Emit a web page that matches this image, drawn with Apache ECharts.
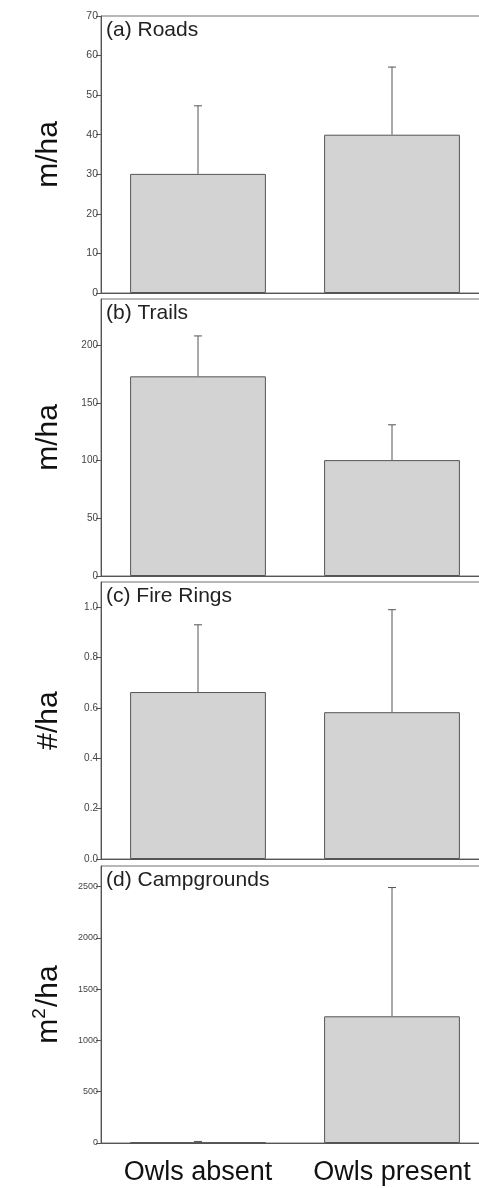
<!DOCTYPE html>
<html>
<head>
<meta charset="utf-8">
<script src="https://cdn.jsdelivr.net/npm/echarts@6/dist/echarts.min.js"></script>
<style>
html,body{margin:0;padding:0;background:#fff;}
#c{width:479px;height:1188px;}
</style>
</head>
<body>
<div id="c"></div>
<script>
const categories = ['Owls absent', 'Owls present'];
const panelTitles = ['(a) Roads', '(b) Trails', '(c) Fire Rings', '(d) Campgrounds'];
const yNames = ['m/ha', 'm/ha', '#/ha', '{b|m}{sup|2}{b|/ha}'];

const roadsMean = [30.1, 40.0];
const roadsUpper = [47.3, 57.1];
const trailsMean = [173, 100.4];
const trailsUpper = [208, 131];
const fireMean = [0.663, 0.583];
const fireUpper = [0.93, 0.99];
const campMean = [5, 1235];
const campUpper = [15, 2490];

const yMax = [70, 240, 1.1, 2700];
const roadsTicks = [0, 10, 20, 30, 40, 50, 60, 70];
const trailsTicks = [0, 50, 100, 150, 200];
const fireTicks = [0, 0.2, 0.4, 0.6, 0.8, 1.0];
const campTicks = [0, 500, 1000, 1500, 2000, 2500];

const means = [roadsMean, trailsMean, fireMean, campMean];
const uppers = [roadsUpper, trailsUpper, fireUpper, campUpper];
const ticks = [roadsTicks, trailsTicks, fireTicks, campTicks];
const labelFmt = [v => String(v), v => String(v), v => Number(v).toFixed(1), v => String(v)];
const tickFont = [10.5, 10, 10, 9];

const gridTops = [16, 299, 582, 866];
const gridH = 277;
const axisColor = '#555';

const chart = echarts.init(document.getElementById('c'), null, {renderer: 'canvas'});

const grids = [], xAxes = [], yAxes = [], series = [], titles = [];
for (let i = 0; i < 4; i++) {
  grids.push({
    left: 101, right: -10, top: gridTops[i], height: gridH,
    outerBoundsMode: 'none', containLabel: false,
    show: true, borderColor: '#707070', borderWidth: 1, backgroundColor: 'transparent'
  });
  xAxes.push({
    type: 'category', gridIndex: i, data: categories,
    axisLine: {lineStyle: {color: axisColor, width: 1}},
    axisTick: {show: false},
    axisLabel: {show: i === 3, interval: 0, hideOverlap: false, fontSize: 27, color: '#111', margin: 16, fontFamily: 'Liberation Sans'}
  });
  yAxes.push({
    type: 'value', gridIndex: i, min: 0, max: yMax[i],
    name: yNames[i], nameLocation: 'middle', nameGap: 37,
    nameTextStyle: {fontSize: 30, color: '#111', fontFamily: 'Liberation Sans',
      rich: {
        b: {fontSize: 30, color: '#111', fontFamily: 'Liberation Sans', lineHeight: 34, verticalAlign: 'bottom'},
        sup: {fontSize: 19, color: '#111', fontFamily: 'Liberation Sans', lineHeight: 34, verticalAlign: 'top', padding: [0, 1, 0, 0]}
      }},
    splitLine: {show: false},
    axisLine: {show: true, lineStyle: {color: axisColor, width: 1}},
    axisTick: {show: true, length: 5, lineStyle: {color: axisColor}, customValues: ticks[i]},
    axisLabel: {fontSize: tickFont[i], color: '#444', margin: 3, fontFamily: 'Liberation Sans',
      customValues: ticks[i], formatter: labelFmt[i], showMaxLabel: true}
  });
  series.push({
    type: 'bar', xAxisIndex: i, yAxisIndex: i, data: means[i], barWidth: '70%',
    itemStyle: {color: '#d3d3d3', borderColor: '#555', borderWidth: 1},
    silent: true
  });
  const eb = means[i].map((m, k) => [k, m, uppers[i][k]]);
  series.push({
    type: 'custom', xAxisIndex: i, yAxisIndex: i, data: eb, z: 5, silent: true,
    renderItem: function (params, api) {
      const x = api.value(0), lo = api.value(1), hi = api.value(2);
      const p0 = api.coord([x, lo]);
      const p1 = api.coord([x, hi]);
      const st = {stroke: '#555', lineWidth: 1};
      return {type: 'group', children: [
        {type: 'line', shape: {x1: p0[0], y1: p0[1], x2: p1[0], y2: p1[1]}, style: st},
        {type: 'line', shape: {x1: p1[0] - 4, y1: p1[1], x2: p1[0] + 4, y2: p1[1]}, style: st}
      ]};
    }
  });
  titles.push({
    text: panelTitles[i], left: 106, top: gridTops[i] + 4, padding: 0,
    textStyle: {fontSize: 21, fontWeight: 'normal', color: '#222', fontFamily: 'Liberation Sans'}
  });
}

chart.setOption({
  animation: false,
  title: titles,
  grid: grids,
  xAxis: xAxes,
  yAxis: yAxes,
  series: series
});
</script>
</body>
</html>
